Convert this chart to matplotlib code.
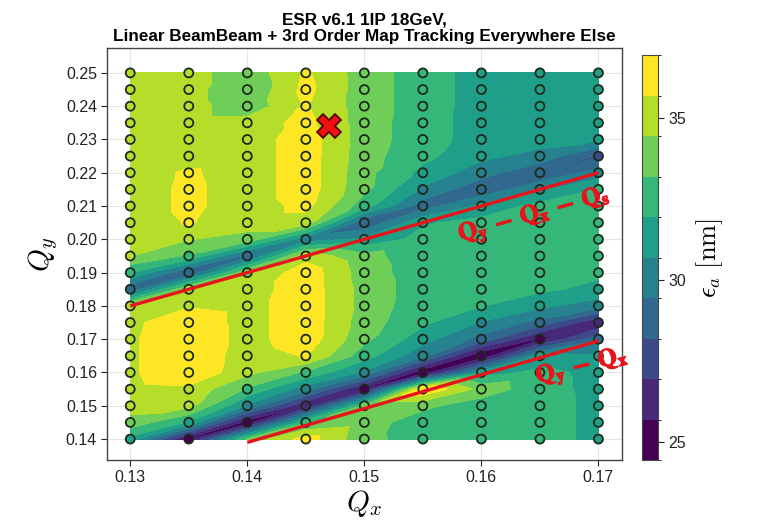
import numpy as np
import matplotlib
matplotlib.use("Agg")
import matplotlib.pyplot as plt
import matplotlib.tri as mtri
import matplotlib.patheffects as pe
from matplotlib.colors import ListedColormap, BoundaryNorm

plt.rcParams['font.family'] = ['Liberation Sans', 'DejaVu Sans']
plt.rcParams['mathtext.fontset'] = 'cm'

# ---------------- data ----------------
qx = [0.13, 0.135, 0.14, 0.145, 0.15, 0.155, 0.16, 0.165, 0.17]
qy = [0.14, 0.145, 0.15, 0.155, 0.16, 0.165, 0.17, 0.175, 0.18, 0.185, 0.19,
      0.195, 0.20, 0.205, 0.21, 0.215, 0.22, 0.225, 0.23, 0.235, 0.24, 0.245, 0.25]

# emittance [nm]; one row per Qy value, columns follow qx
emit = [
    [31.5, 25.3, 33.5, 36.3, 33.6, 32.6, 32.5, 32.5, 31.6],  # 0.140
    [34.0, 31.8, 25.0, 33.0, 33.8, 32.5, 32.5, 32.5, 31.6],  # 0.145
    [35.0, 34.8, 30.5, 25.8, 33.5, 33.5, 32.5, 32.5, 31.6],  # 0.150
    [35.3, 35.4, 33.0, 30.0, 25.5, 36.9, 34.0, 32.4, 31.6],  # 0.155
    [35.5, 36.8, 34.8, 33.0, 30.5, 24.8, 31.3, 32.3, 31.6],  # 0.160
    [35.5, 36.8, 35.0, 35.8, 32.5, 29.8, 24.6, 31.0, 30.8],  # 0.165
    [35.5, 36.8, 35.2, 36.5, 33.5, 31.2, 29.0, 25.5, 29.0],  # 0.170
    [35.4, 36.6, 35.2, 36.5, 33.8, 32.2, 30.6, 29.0, 25.8],  # 0.175
    [35.0, 35.6, 35.2, 36.5, 34.0, 32.4, 32.0, 31.0, 30.0],  # 0.180
    [28.5, 34.6, 35.0, 36.5, 34.0, 32.5, 32.4, 32.2, 31.6],  # 0.185
    [32.0, 28.3, 34.3, 36.5, 33.8, 32.5, 32.5, 32.4, 32.2],  # 0.190
    [34.5, 33.0, 29.0, 35.2, 33.6, 32.5, 32.5, 32.5, 32.4],  # 0.195
    [35.0, 34.5, 34.0, 30.0, 31.0, 32.4, 32.5, 32.5, 32.5],  # 0.200
    [35.0, 35.8, 35.0, 35.0, 28.3, 31.8, 32.4, 32.5, 32.5],  # 0.205
    [35.0, 36.0, 35.0, 36.1, 32.5, 28.8, 31.0, 32.4, 32.5],  # 0.210
    [35.0, 36.0, 35.0, 36.4, 33.5, 30.5, 28.5, 30.5, 32.0],  # 0.215
    [35.0, 35.9, 35.0, 36.4, 33.6, 31.6, 30.0, 28.3, 30.0],  # 0.220
    [35.0, 35.2, 35.0, 36.4, 33.7, 32.3, 31.0, 30.3, 28.0],  # 0.225
    [35.0, 35.0, 35.0, 36.4, 33.8, 32.5, 31.4, 31.2, 30.9],  # 0.230
    [35.0, 35.0, 35.0, 36.1, 33.8, 32.5, 31.4, 31.3, 31.2],  # 0.235
    [35.0, 35.0, 33.6, 35.8, 33.8, 32.6, 31.4, 31.3, 31.3],  # 0.240
    [35.0, 35.0, 33.3, 36.1, 33.8, 32.6, 31.4, 31.3, 31.3],  # 0.245
    [35.0, 35.0, 33.6, 35.9, 33.8, 32.6, 31.4, 31.3, 31.3],  # 0.250
]
# scan points without a marker (qx, qy)
no_marker = [(0.14, 0.14)]

levels = [24.45, 25.7, 26.95, 28.2, 29.45, 30.7, 31.95, 33.2, 34.45, 35.7, 36.95]
cbar_ticks = [25, 30, 35]
xticks = [0.13, 0.14, 0.15, 0.16, 0.17]
yticks = [0.14, 0.15, 0.16, 0.17, 0.18, 0.19, 0.20, 0.21, 0.22, 0.23, 0.24, 0.25]

# resonance lines and working point
res1_x, res1_y = [0.13, 0.17], [0.18, 0.22]
res2_x, res2_y = [0.14, 0.17], [0.139, 0.1695]
wp_x, wp_y = 0.147, 0.234
label1 = (0.1645, 0.2070, r'$\mathbf{Q_y\;-\;Q_x\;-\;Q_s}$')
label2 = (0.1686, 0.1615, r'$\mathbf{Q_y\;-\;Q_x}$')

# ---------------- plot ----------------
Z = np.array(emit)
X, Y = np.meshgrid(qx, qy)
nx, ny = len(qx), len(qy)

# triangulate the scan grid with diagonals along the resonance direction
triangles = []
for j in range(ny - 1):
    for i in range(nx - 1):
        a = j * nx + i
        triangles.append([a, a + 1, a + nx + 1])
        triangles.append([a, a + nx + 1, a + nx])
tri = mtri.Triangulation(X.ravel(), Y.ravel(), triangles)

cmap = ListedColormap(plt.cm.viridis(np.linspace(0, 1, len(levels) - 1)))
norm = BoundaryNorm(levels, cmap.N)

fig = plt.figure(figsize=(7.63, 5.21), dpi=100)
ax = fig.add_axes([0.140, 0.117, 0.675, 0.791])

ax.grid(True, color='#e6e6e6', lw=0.8)
ax.set_axisbelow(True)

cs = ax.tricontourf(tri, Z.ravel(), levels=levels, cmap=cmap, norm=norm, zorder=1)

mask = np.ones_like(Z, dtype=bool)
for (mx, my) in no_marker:
    mask[qy.index(my), qx.index(mx)] = False
ax.scatter(X[mask], Y[mask], c=Z[mask], cmap=cmap, norm=norm, s=42,
           edgecolors='#1c2a1c', linewidths=1.3, zorder=3, clip_on=False)

red = '#e8141c'
ax.plot(res1_x, res1_y, color=red, lw=2.4, zorder=4, solid_capstyle='butt')
ax.plot(res2_x, res2_y, color=red, lw=2.4, zorder=4, solid_capstyle='butt')
ax.plot(wp_x, wp_y, marker='X', ms=17, mfc='#f01010', mec='#4a0000', mew=1.2,
        zorder=5, ls='none')

bold = [pe.withStroke(linewidth=0.9, foreground=red)]
ax.text(label1[0], label1[1], label1[2], color=red, fontsize=17.5,
        rotation=15.5, ha='center', va='center', zorder=6, math_fontfamily='stix',
        path_effects=bold)
ax.text(label2[0], label2[1], label2[2], color=red, fontsize=17.5,
        rotation=14, ha='center', va='center', zorder=6, math_fontfamily='stix',
        path_effects=bold)

ax.set_xlim(0.128, 0.172)
ax.set_ylim(0.1337, 0.2575)
ax.set_xticks(xticks)
ax.set_xticklabels([f'{v:.2f}' for v in xticks])
ax.set_yticks(yticks)
ax.set_yticklabels([f'{v:.2f}' for v in yticks])
ax.tick_params(direction='out', length=4, width=0.8, labelsize=11.5,
               colors='#222222', pad=3)
for s in ax.spines.values():
    s.set_color('#444444')
    s.set_linewidth(1.0)

ax.set_xlabel(r'$Q_x$', fontsize=21, labelpad=2)
ax.set_ylabel(r'$Q_y$', fontsize=21, labelpad=4)
ax.set_title('ESR v6.1 1IP 18GeV,\nLinear BeamBeam + 3rd Order Map Tracking Everywhere Else',
             fontsize=12.3, fontweight='bold', pad=5, linespacing=1.15)

cax = fig.add_axes([0.841, 0.117, 0.021, 0.777])
cb = fig.colorbar(cs, cax=cax, ticks=cbar_ticks)
cb.outline.set_edgecolor('#444444')
cb.ax.tick_params(direction='out', length=4, width=0.8, labelsize=11.5, colors='#222222')
cb.set_label(r'$\epsilon_a\ [\mathrm{nm}]$', fontsize=19, labelpad=6)

fig.savefig('out.png', dpi=100)
